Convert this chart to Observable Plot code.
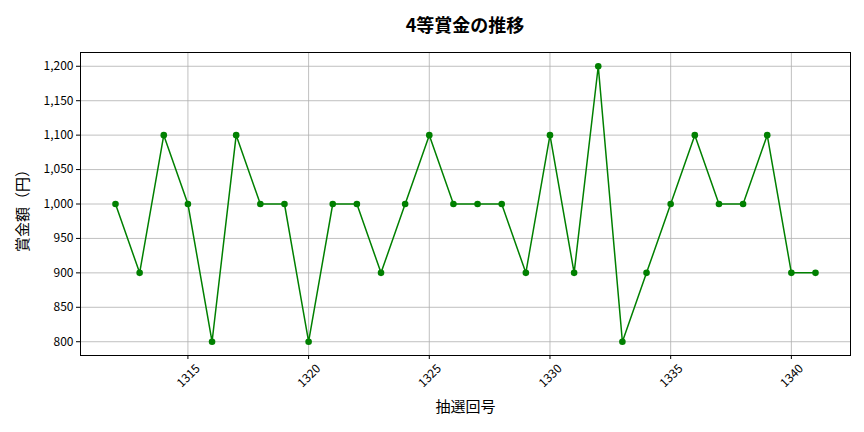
<!DOCTYPE html>
<html><head><meta charset="utf-8">
<script src="https://cdn.jsdelivr.net/npm/d3@7"></script>
<script src="https://cdn.jsdelivr.net/npm/@observablehq/plot@0.6"></script>
<style>
body{margin:0;background:#fff;font-family:"Noto Sans CJK JP","Noto Sans",sans-serif;}
#wrap{position:relative;width:864px;height:432px;}
#title{position:absolute;left:80px;width:770px;top:11px;text-align:center;font-size:18px;font-weight:bold;color:#000;}
#chart{position:absolute;left:0;top:0;}
</style></head>
<body><div id="wrap"><div id="chart"></div><div id="title">4等賞金の推移</div></div>
<script>
const draws = [1312,1313,1314,1315,1316,1317,1318,1319,1320,1321,1322,1323,1324,1325,1326,1327,1328,1329,1330,1331,1332,1333,1334,1335,1336,1337,1338,1339,1340,1341];
const prizes = [1000,900,1100,1000,800,1100,1000,1000,800,1000,1000,900,1000,1100,1000,1000,1000,900,1100,900,1200,800,900,1000,1100,1000,1000,1100,900,900];
const xTicks = [1315,1320,1325,1330,1335,1340];
const yTicks = [800,850,900,950,1000,1050,1100,1150,1200];
const data = draws.map((d,i)=>({draw:d, prize:prizes[i]}));
const fmt = d3.format(",");
const chart = Plot.plot({
  width:864, height:432,
  marginLeft:80, marginRight:14, marginTop:52, marginBottom:77,
  style:{fontFamily:'"Noto Sans CJK JP","Noto Sans",sans-serif', fontSize:"11px", color:"#000", background:"#fff"},
  x:{domain:[1310.55,1342.45]},
  y:{domain:[780,1220]},
  marks:[
    Plot.gridX(xTicks,{stroke:"#b0b0b0", strokeOpacity:1, strokeWidth:0.8}),
    Plot.gridY(yTicks,{stroke:"#b0b0b0", strokeOpacity:1, strokeWidth:0.8}),
    Plot.axisX(xTicks,{tickSize:4, text:null, label:null}),
    Plot.axisX(xTicks,{tickRotate:-45, tickSize:0, tickPadding:7, fontSize:12, label:null, tickFormat:d=>String(d), textAnchor:"end", dx:10, dy:4}),
    Plot.axisY(yTicks,{tickSize:4, tickPadding:3, fontSize:12, label:null, tickFormat:fmt}),
    Plot.line(data,{x:"draw", y:"prize", stroke:"green", strokeWidth:1.5}),
    Plot.dot(data,{x:"draw", y:"prize", fill:"green", r:3.3}),
    Plot.frame({stroke:"#000", strokeWidth:1}),
    Plot.text(["抽選回号"],{frameAnchor:"bottom", dy:56, fontSize:15, fill:"#000"}),
    Plot.text(["賞金額（円）"],{frameAnchor:"left", textAnchor:"middle", dx:-57, dy:3, rotate:-90, fontSize:15, fill:"#000"})
  ]
});
document.getElementById("chart").appendChild(chart);
</script></body></html>
